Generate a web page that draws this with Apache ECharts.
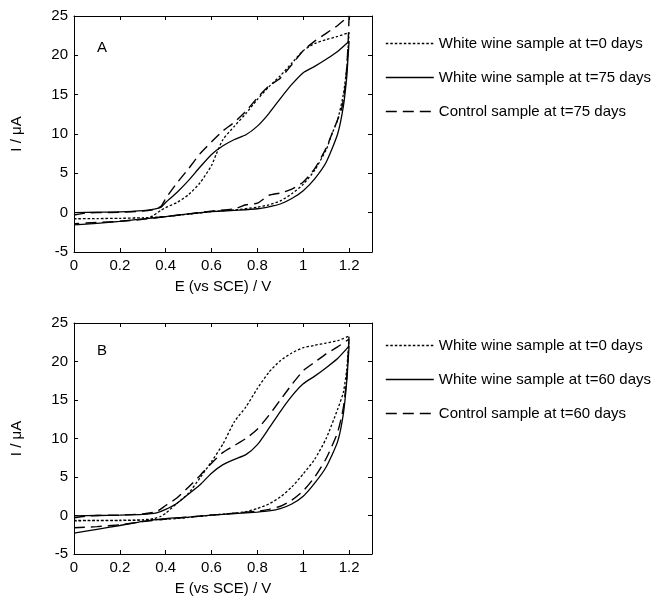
<!DOCTYPE html>
<html>
<head>
<meta charset="utf-8">
<script src="https://cdn.jsdelivr.net/npm/echarts@6/dist/echarts.min.js"></script>
<style>
  html, body { margin: 0; padding: 0; background: #fff; }
  #chart { width: 653px; height: 597px; }
</style>
</head>
<body>
<div id="chart"></div>
<script>
// Cyclic voltammograms: potential (V vs SCE) and current (µA) for each scan loop.

// Panel A
const potA0 = [0, 0.1, 0.2, 0.3, 0.33, 0.38, 0.4, 0.45, 0.5, 0.55, 0.6, 0.62, 0.65, 0.7, 0.75, 0.8, 0.85, 0.9, 0.95, 1.0, 1.05, 1.1, 1.15, 1.2, 1.19, 1.175, 1.15, 1.125, 1.1, 1.05, 1.0, 0.95, 0.9, 0.85, 0.8, 0.7, 0.6, 0.5, 0.4, 0.3, 0.2, 0.1, 0];
const curA0 = [-0.75, -0.75, -0.72, -0.65, -0.6, 0.3, 0.65, 1.3, 2.3, 3.8, 6.0, 7.4, 9.3, 11.0, 12.6, 14.4, 16.0, 17.4, 19.0, 20.6, 21.5, 22.0, 22.4, 22.9, 18.5, 15.0, 11.8, 10.0, 8.0, 5.4, 3.6, 2.4, 1.5, 1.0, 0.7, 0.35, 0.15, -0.2, -0.5, -0.65, -0.72, -0.75, -0.78];

const potA75 = [0, 0.1, 0.2, 0.3, 0.35, 0.38, 0.4, 0.45, 0.5, 0.55, 0.6, 0.65, 0.7, 0.75, 0.8, 0.85, 0.9, 0.95, 1.0, 1.05, 1.1, 1.15, 1.2, 1.195, 1.19, 1.175, 1.15, 1.1, 1.05, 1.0, 0.95, 0.9, 0.85, 0.8, 0.7, 0.6, 0.5, 0.4, 0.3, 0.2, 0.1, 0];
const curA75 = [0.0, 0.05, 0.1, 0.25, 0.45, 0.7, 1.3, 2.6, 4.1, 5.8, 7.4, 8.5, 9.3, 9.9, 11.0, 12.6, 14.5, 16.3, 17.8, 18.6, 19.5, 20.5, 21.8, 19.5, 17.3, 13.5, 10.0, 6.4, 4.3, 2.8, 1.8, 1.1, 0.75, 0.5, 0.3, 0.12, -0.15, -0.5, -0.8, -1.1, -1.35, -1.55];

const potAc = [0, 0.05, 0.1, 0.2, 0.3, 0.35, 0.38, 0.4, 0.45, 0.5, 0.55, 0.6, 0.65, 0.7, 0.75, 0.8, 0.85, 0.9, 0.95, 1.0, 1.05, 1.1, 1.15, 1.2, 1.195, 1.185, 1.17, 1.15, 1.125, 1.1, 1.05, 1.0, 0.95, 0.9, 0.85, 0.8, 0.75, 0.7, 0.6, 0.5, 0.4, 0.3, 0.2, 0.1, 0];
const curAc = [-0.3, -0.05, 0.0, 0.05, 0.2, 0.4, 0.8, 1.8, 3.8, 5.6, 7.5, 9.0, 10.4, 11.5, 12.9, 14.6, 16.1, 17.1, 18.8, 20.6, 21.8, 22.8, 23.8, 25.0, 21.0, 16.5, 13.5, 11.8, 10.0, 8.2, 5.6, 3.9, 3.0, 2.5, 2.2, 1.2, 1.0, 0.5, 0.2, -0.15, -0.5, -0.85, -1.1, -1.25, -1.4];

// Panel B
const potB0 = [0, 0.1, 0.2, 0.3, 0.35, 0.38, 0.4, 0.45, 0.5, 0.55, 0.6, 0.65, 0.7, 0.75, 0.8, 0.85, 0.9, 0.95, 1.0, 1.05, 1.1, 1.15, 1.2, 1.19, 1.175, 1.15, 1.1, 1.05, 1.0, 0.95, 0.9, 0.85, 0.8, 0.75, 0.7, 0.6, 0.5, 0.4, 0.3, 0.2, 0.1, 0];
const curB0 = [-0.65, -0.65, -0.62, -0.55, -0.4, -0.1, 0.3, 1.6, 2.9, 4.9, 7.0, 9.3, 12.2, 14.1, 16.5, 18.6, 20.1, 21.1, 21.8, 22.1, 22.4, 22.7, 23.3, 19.0, 16.0, 13.8, 10.0, 7.3, 5.4, 3.7, 2.4, 1.5, 0.9, 0.5, 0.3, 0.05, -0.25, -0.5, -0.6, -0.65, -0.65, -0.7];

const potB60 = [0, 0.1, 0.2, 0.3, 0.36, 0.4, 0.45, 0.5, 0.55, 0.6, 0.65, 0.7, 0.75, 0.8, 0.85, 0.9, 0.95, 1.0, 1.05, 1.1, 1.15, 1.2, 1.19, 1.175, 1.15, 1.1, 1.05, 1.0, 0.95, 0.9, 0.85, 0.8, 0.7, 0.6, 0.5, 0.4, 0.3, 0.2, 0.1, 0];
const curB60 = [-0.05, 0.0, 0.05, 0.15, 0.35, 0.8, 1.6, 2.8, 4.0, 5.5, 6.6, 7.3, 7.9, 9.2, 11.3, 13.5, 15.5, 17.1, 18.1, 19.2, 20.4, 22.0, 17.5, 13.2, 9.6, 6.3, 4.2, 2.5, 1.5, 0.9, 0.6, 0.45, 0.25, 0.05, -0.2, -0.4, -0.75, -1.3, -1.8, -2.3];

const potBc = [0, 0.05, 0.1, 0.2, 0.3, 0.36, 0.4, 0.45, 0.5, 0.55, 0.6, 0.65, 0.7, 0.75, 0.8, 0.85, 0.9, 0.95, 1.0, 1.05, 1.1, 1.15, 1.2, 1.19, 1.175, 1.15, 1.1, 1.05, 1.0, 0.95, 0.9, 0.85, 0.8, 0.7, 0.6, 0.5, 0.4, 0.3, 0.2, 0.1, 0];
const curBc = [-0.3, -0.1, 0.0, 0.05, 0.2, 0.5, 1.3, 2.3, 3.7, 5.2, 6.8, 8.2, 9.1, 10.0, 11.2, 13.0, 15.0, 17.0, 18.8, 19.9, 21.0, 21.9, 22.9, 18.0, 14.0, 10.8, 7.4, 5.0, 3.2, 2.0, 1.2, 0.8, 0.55, 0.3, 0.05, -0.2, -0.45, -0.8, -1.2, -1.45, -1.6];

const namesA = ['White wine sample at t=0 days', 'White wine sample at t=75 days', 'Control sample at t=75 days'];
const namesB = ['White wine sample at t=0 days', 'White wine sample at t=60 days', 'Control sample at t=60 days'];
const panelLabels = ['A', 'B'];
const xTicks = { min: 0, max: 1.3, interval: 0.2 };
const yTicks = { min: -5, max: 25, interval: 5 };
const xName = 'E (vs SCE) / V';
const yName = 'I / \u03bcA';

const FONT = '"Liberation Sans", Arial, sans-serif';
const INK = '#000';

function pairs(xs, ys) {
  return xs.map((x, i) => [x, ys[i]]);
}

const dotted = { type: [2.5, 2], width: 1.3 };
const solid = { type: 'solid', width: 1.3 };
const dashed = { type: [11, 6], width: 1.4 };

function curve(name, xs, ys, style, idx) {
  return {
    type: 'line',
    name: name,
    xAxisIndex: idx * 2,
    yAxisIndex: idx * 2,
    data: pairs(xs, ys),
    symbol: 'none',
    smooth: 0.2,
    animation: false,
    lineStyle: Object.assign({ color: INK }, style),
    itemStyle: { color: INK }
  };
}

const grids = [
  { left: 74, top: 16, width: 298, height: 236 },
  { left: 74, top: 323, width: 298, height: 235 }
];

function xAxes(gi) {
  const common = {
    type: 'value', gridIndex: gi,
    min: xTicks.min, max: xTicks.max, interval: xTicks.interval,
    splitLine: { show: false },
    axisLine: { show: true, onZero: false, lineStyle: { color: INK, width: 1 } },
    axisTick: { show: true, inside: true, length: 4, lineStyle: { color: INK } }
  };
  return [
    Object.assign({}, common, {
      position: 'bottom',
      name: xName, nameLocation: 'middle', nameGap: 27,
      nameTextStyle: { fontFamily: FONT, fontSize: 15, color: INK },
      axisLabel: {
        margin: 6, fontFamily: FONT, fontSize: 15, color: INK,
        formatter: v => (v > 1.25 ? '' : String(+v.toFixed(1)))
      }
    }),
    Object.assign({}, common, { position: 'top', axisLabel: { show: false } })
  ];
}

function yAxes(gi) {
  const common = {
    type: 'value', gridIndex: gi,
    min: yTicks.min, max: yTicks.max, interval: yTicks.interval,
    splitLine: { show: false },
    axisLine: { show: true, onZero: false, lineStyle: { color: INK, width: 1 } },
    axisTick: { show: true, inside: true, length: 4, lineStyle: { color: INK } }
  };
  return [
    Object.assign({}, common, {
      position: 'left',
      name: yName, nameLocation: 'middle', nameGap: 50,
      nameTextStyle: { fontFamily: FONT, fontSize: 15, color: INK },
      axisLabel: { margin: 6, fontFamily: FONT, fontSize: 15, color: INK }
    }),
    Object.assign({}, common, { position: 'right', axisLabel: { show: false } })
  ];
}

function legendFor(names, top) {
  return {
    data: names,
    orient: 'vertical',
    left: 385,
    top: top,
    padding: 0,
    itemWidth: 48,
    itemHeight: 14,
    itemGap: 19,
    selectedMode: false,
    textStyle: { fontFamily: FONT, fontSize: 15, color: INK },
    itemStyle: { opacity: 0, borderWidth: 0 },
    lineStyle: { width: 1.6 }
  };
}

const option = {
  backgroundColor: '#fff',
  animation: false,
  textStyle: { fontFamily: FONT },
  grid: grids,
  xAxis: xAxes(0).concat(xAxes(1)),
  yAxis: yAxes(0).concat(yAxes(1)),
  title: [
    { text: panelLabels[0], left: 97, top: 40, padding: 0, textStyle: { fontFamily: FONT, fontSize: 15, fontWeight: 'normal', color: INK } },
    { text: panelLabels[1], left: 97, top: 343, padding: 0, textStyle: { fontFamily: FONT, fontSize: 15, fontWeight: 'normal', color: INK } }
  ],
  legend: [legendFor(namesA, 36), legendFor(namesB, 338)],
  series: [
    curve(namesA[0], potA0, curA0, dotted, 0),
    curve(namesA[1], potA75, curA75, solid, 0),
    curve(namesA[2], potAc, curAc, dashed, 0),
    curve(namesB[0], potB0, curB0, dotted, 1),
    curve(namesB[1], potB60, curB60, solid, 1),
    curve(namesB[2], potBc, curBc, dashed, 1)
  ]
};

const chart = echarts.init(document.getElementById('chart'), null, { renderer: 'canvas' });
chart.setOption(option);
</script>
</body>
</html>
